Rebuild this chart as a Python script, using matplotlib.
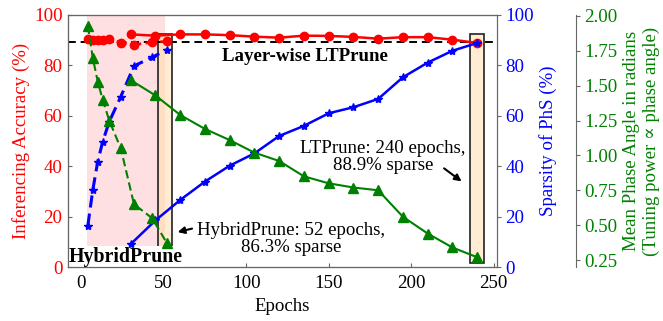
import matplotlib
matplotlib.use("Agg")
import matplotlib.pyplot as plt
from matplotlib.patches import Rectangle

plt.rcParams['font.family'] = ['Liberation Serif', 'DejaVu Serif']
plt.rcParams['font.size'] = 13.6

# HybridPrune series
hp_epochs = [4, 7, 10, 13, 17, 24, 32, 43, 52]
hp_acc = [90.5, 90.2, 89.9, 90.0, 90.5, 89.0, 88.2, 89.2, 89.5]
hp_sparsity = [16.4, 30.5, 41.8, 49.7, 57.7, 67.6, 79.8, 83.2, 86.3]
hp_phase = [1.93, 1.70, 1.53, 1.40, 1.25, 1.05, 0.65, 0.55, 0.37]

# Layer-wise LTPrune series
lt_epochs = [30, 45, 60, 75, 90, 105, 120, 135, 150, 165, 180, 195, 210, 225, 240]
lt_acc = [92.3, 91.8, 92.3, 92.3, 92.0, 91.4, 91.0, 91.8, 91.7, 91.3, 90.6, 91.2, 91.2, 90.2, 88.9]
lt_sparsity = [9.1, 18.5, 26.6, 33.9, 40.2, 45.1, 52.0, 56.0, 61.0, 63.4, 66.7, 75.3, 81.1, 85.8, 88.9]
lt_phase = [1.54, 1.43, 1.29, 1.19, 1.11, 1.02, 0.96, 0.85, 0.80, 0.77, 0.75, 0.56, 0.44, 0.34, 0.27]

ref_acc = 89.2
x_ticks = [0, 50, 100, 150, 200, 250]
acc_ticks = [0, 20, 40, 60, 80, 100]
sp_ticks = [0, 20, 40, 60, 80, 100]
ph_ticks = [0.25, 0.50, 0.75, 1.00, 1.25, 1.50, 1.75, 2.00]

fig = plt.figure(figsize=(6.63, 3.21), dpi=100)
ax = fig.add_axes([0.1026, 0.1682, 0.6470, 0.7851])
ax2 = ax.twinx()
ax3 = ax.twinx()
ax3.spines['right'].set_position(('axes', 1.184))

spine_c = '#666666'
for a in (ax, ax2, ax3):
    for s in a.spines.values():
        s.set_color(spine_c)

# shaded HybridPrune region
ax.axvspan(3.5, 51, color='#ffe0e2', zorder=0, lw=0)
# highlight boxes
ax.add_patch(Rectangle((46.75, 7.5), 8.5, 85, facecolor='#ffdead', alpha=0.55,
                       edgecolor='none', zorder=1))
ax.add_patch(Rectangle((46.75, 7.5), 8.5, 85, facecolor='none',
                       edgecolor='#222222', lw=1.2, zorder=1.1))
ax.add_patch(Rectangle((235.75, 1.6), 8.5, 90.8, facecolor='#ffdead', alpha=0.55,
                       edgecolor='none', zorder=1))
ax.add_patch(Rectangle((235.75, 1.6), 8.5, 90.8, facecolor='none',
                       edgecolor='#222222', lw=1.2, zorder=1.1))

ax.axhline(ref_acc, color='black', ls='--', lw=1.4, dashes=(4, 2.5), zorder=2)

# accuracy
ax.plot(hp_epochs, hp_acc, color='red', ls='--', marker='o', ms=6, lw=2, zorder=3)
ax.plot(lt_epochs, lt_acc, color='red', ls='-', marker='o', ms=6, lw=1.8, zorder=3)

# sparsity
ax2.plot(hp_epochs, hp_sparsity, color='blue', ls='--', marker='*', ms=6, lw=2.2,
         dashes=(4, 2))
ax2.plot(lt_epochs, lt_sparsity, color='blue', ls='-', marker='*', ms=6, lw=1.8)

# phase angle
ax3.plot(hp_epochs, hp_phase, color='green', ls='--', marker='^', ms=6.5, lw=1.5,
         dashes=(4, 2))
ax3.plot(lt_epochs, lt_phase, color='green', ls='-', marker='^', ms=6.5, lw=1.5)

ax.set_xlim(-8, 252)
ax.set_ylim(0, 100)
ax2.set_ylim(0, 100)
ax3.set_ylim(0.2, 2.007)

ax.set_xticks(x_ticks)
ax.set_yticks(acc_ticks)
ax2.set_yticks(sp_ticks)
ax3.set_yticks(ph_ticks)
ax3.set_yticklabels([f"{v:.2f}" for v in ph_ticks])

ax.tick_params(axis='x', direction='in', length=3, colors=spine_c, labelcolor='black', pad=6)
ax.tick_params(axis='y', direction='in', length=3, colors=spine_c, labelcolor='red', pad=4)
ax2.tick_params(axis='y', direction='out', length=3, colors=spine_c, labelcolor='blue', pad=3)
ax3.tick_params(axis='y', direction='out', length=3, colors=spine_c, labelcolor='green', pad=3)

ax.set_xlabel('Epochs', labelpad=4)
ax.set_ylabel('Inferencing Accuracy (%)', color='red', labelpad=3)
ax2.set_ylabel('Sparsity of PhS (%)', color='blue', labelpad=4)
ax3.set_ylabel('Mean Phase Angle in radians\n(Tuning power \u221d phase angle)',
               color='green', labelpad=4)

ax.text(135.5, 83.5, 'Layer-wise LTPrune', fontweight='bold', ha='center', va='center',
        zorder=5)
ax.text(0.002, 0.0, 'HybridPrune', transform=ax.transAxes, fontweight='bold',
        fontsize=14.3, ha='left', va='bottom', zorder=6,
        bbox=dict(facecolor='white', edgecolor='none', pad=0.6))

ax.text(127.4, 11.3, 'HybridPrune: 52 epochs,\n86.3% sparse', ha='center', va='center',
        multialignment='center', linespacing=1.0, zorder=5)
ax.annotate('', xy=(56.8, 13.6), xytext=(68.8, 15.5),
            arrowprops=dict(arrowstyle='-|>', color='black', lw=1.5, mutation_scale=10),
            zorder=5)
ax.text(183, 43.7, 'LTPrune: 240 epochs,\n88.9% sparse', ha='center', va='center',
        multialignment='center', linespacing=1.0, zorder=5)
ax.annotate('', xy=(231.9, 33.3), xytext=(218.6, 39.8),
            arrowprops=dict(arrowstyle='-|>', color='black', lw=1.5, mutation_scale=10),
            zorder=5)

fig.savefig('out.png', dpi=100)
